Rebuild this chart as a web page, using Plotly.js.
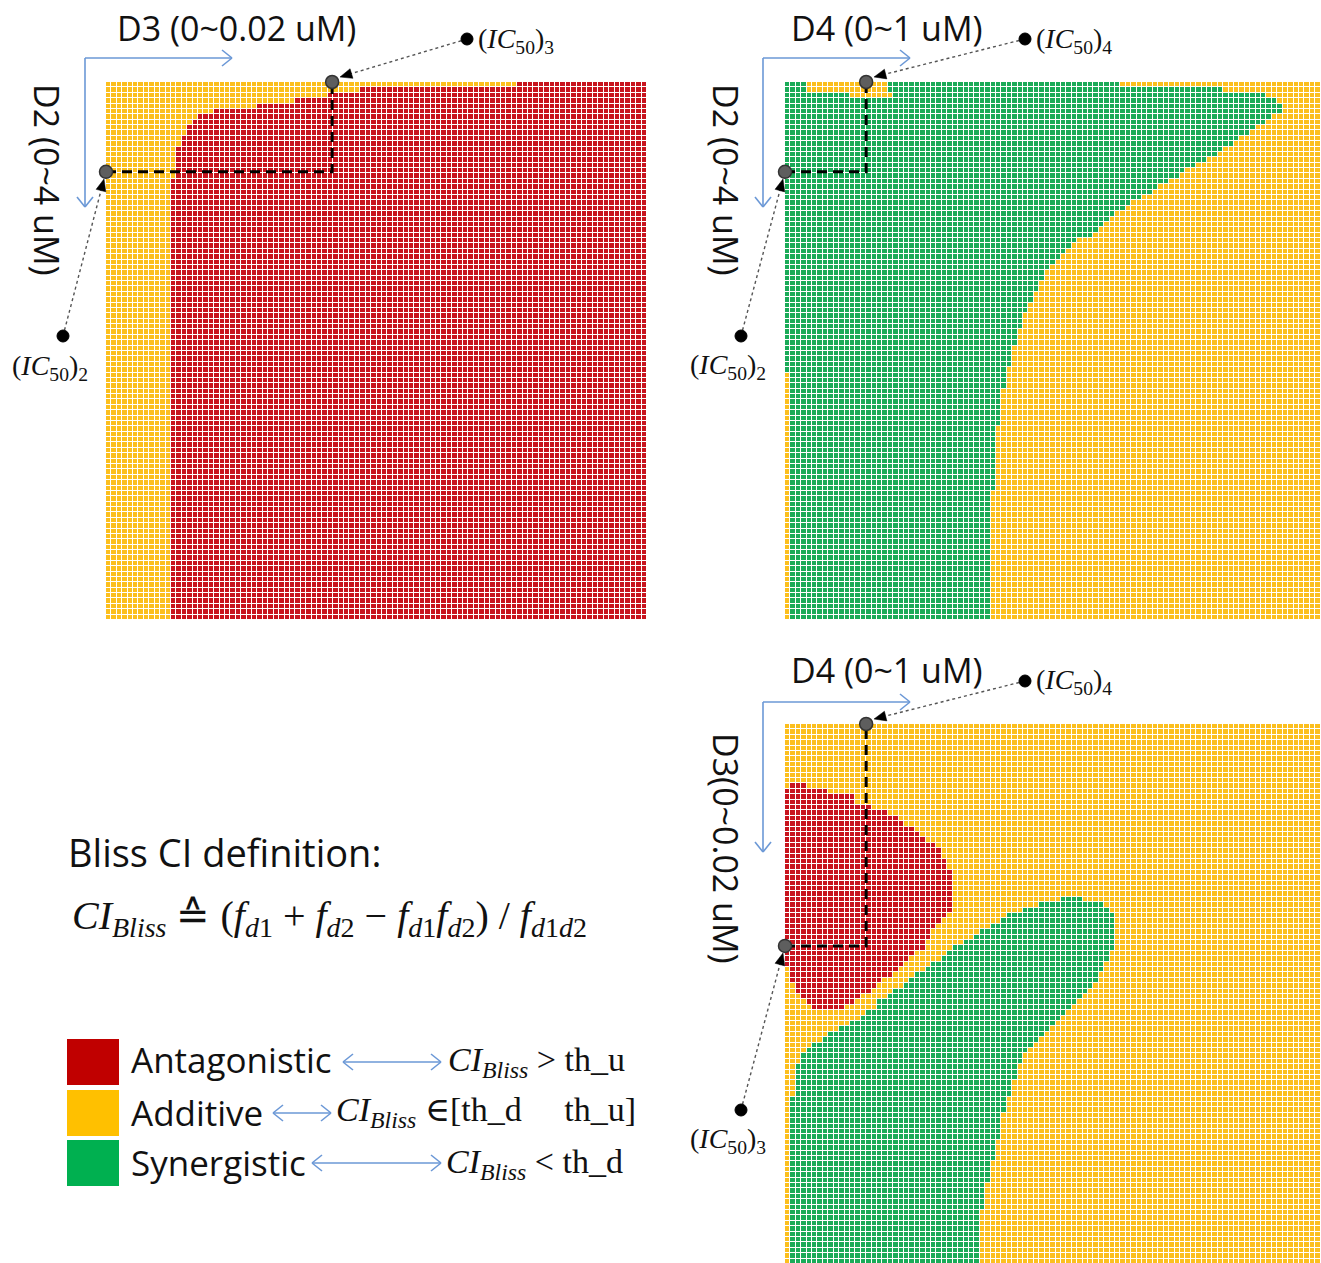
<!DOCTYPE html>
<html><head><meta charset="utf-8">
<script src="https://cdn.plot.ly/plotly-3.0.1.min.js"></script>
<style>html,body{margin:0;padding:0;background:#fff;} #chart{width:1321px;height:1263px;}</style>
</head><body><div id="chart"></div>
<script>
// ---------------- DATA (cell classes) ----------------
// classes: 0 = Synergistic, 1 = Additive, 2 = Antagonistic ; grid 100 x 100
const classNames = ['Synergistic', 'Additive', 'Antagonistic'];
const gridSize = 100;

// Panel 1: D2 (rows, 0~4 uM) x D3 (cols, 0~0.02 uM)
// first antagonistic column, valid from the given row downwards
const p1BandRows = [0, 1, 2, 3, 4, 5, 6, 7, 8, 9, 10, 12, 18];
const p1RedStartCol = [76, 47, 41, 35, 28, 20, 17, 16, 15, 15, 14, 13, 12];

// Panel 2: D2 (rows) x D4 (cols, 0~1 uM)
// first additive column on the right (synergistic before it), valid from given row down
const p2EdgeRows = [0, 1, 2, 3, 4, 5, 6, 7, 8, 9, 10, 11, 12, 13, 14, 15, 16, 17, 18, 19, 20, 21, 22, 23, 24, 25, 26, 27, 28, 29, 30, 31, 32, 33, 34, 35, 37, 39, 41, 43, 46, 49, 53, 57, 64, 76];
const p2EdgeCols = [62, 81, 89, 91, 92, 92, 90, 89, 87, 86, 84, 83, 81, 80, 78, 76, 74, 73, 71, 69, 68, 66, 64, 63, 61, 60, 59, 58, 57, 54, 53, 52, 51, 50, 49, 48, 47, 46, 45, 44, 43, 42, 41, 40, 39, 38];
// small additive patch at the top (rows, from col, to col inclusive)
const p2PatchRows = [0, 1, 2];
const p2PatchFrom = [4, 4, 12];
const p2PatchTo = [18, 18, 19];
// additive strip in column 0 from this row down
const p2LeftStripFromRow = 54;

// Panel 3: D3 (rows, 0~0.02 uM) x D4 (cols, 0~1 uM)
const p3RedTopRow = 11;
const p3RedLeft = [1, 0, 0, 0, 0, 0, 0, 0, 0, 0, 0, 0, 0, 0, 0, 0, 0, 0, 0, 0, 0, 0, 0, 0, 0, 0, 0, 0, 0, 0, 0, 0, 0, 0, 1, 1, 1, 2, 2, 3, 4, 5];
const p3RedRight = [4, 8, 13, 13, 16, 19, 21, 22, 24, 25, 26, 28, 29, 29, 30, 30, 31, 31, 31, 31, 31, 31, 31, 31, 30, 29, 28, 27, 27, 26, 26, 24, 23, 22, 21, 20, 18, 17, 16, 14, 13, 11];
const p3GreenTopRow = 32;
const p3GreenLeft = [51, 47, 44, 41, 40, 38, 36, 35, 33, 31,
  30, 29, 27, 26, 24, 23, 22, 20, 19, 17,
  17, 15, 14, 12, 10, 8, 7, 5, 4, 3,
  3, 2, 2, 2, 2, 2, 2, 1, 1, 1,
  1, 1, 1, 1, 1, 1, 1, 1, 1, 1,
  1, 1, 1, 1, 1, 1, 1, 1, 1, 1,
  1, 1, 1, 1, 1, 1, 1, 1];
const p3GreenRight = [55, 59, 60, 61, 61, 61, 61, 61, 61, 61,
  60, 60, 59, 59, 58, 58, 57, 56, 55, 54,
  53, 52, 51, 50, 49, 48, 47, 46, 45, 44,
  44, 43, 43, 43, 42, 42, 42, 41, 41, 41,
  40, 40, 40, 40, 40, 39, 39, 39, 39, 38,
  38, 38, 38, 37, 37, 37, 37, 37, 36, 36,
  36, 36, 36, 36, 36, 36, 36, 36];

// IC50 positions (in cell units) of each drug on its axis
const ic50_D2_row = 16.2;   // panels 1 & 2
const ic50_D3_col = 41.3;   // panel 1
const ic50_D4_col = 14.5;   // panels 2 & 3
const ic50_D3_row = 40.6;   // panel 3

// text
const axisLabels = {
  p1x: 'D3 (0~0.02 uM)', p1y: 'D2 (0~4 uM)',
  p2x: 'D4 (0~1 uM)', p2y: 'D2 (0~4 uM)',
  p3x: 'D4 (0~1 uM)', p3y: 'D3(0~0.02 uM)'
};

// ---------------- BUILD GRIDS ----------------
function stepLookup(rows, vals, r) {
  let v = vals[0];
  for (let i = 0; i < rows.length; i++) if (r >= rows[i]) v = vals[i];
  return v;
}
const z1 = [], z2 = [], z3 = [];
for (let r = 0; r < gridSize; r++) {
  const a = [], b = [], c3 = [];
  const s1 = stepLookup(p1BandRows, p1RedStartCol, r);
  const e2 = stepLookup(p2EdgeRows, p2EdgeCols, r);
  for (let c = 0; c < gridSize; c++) {
    a.push(c >= s1 ? 2 : 1);
    let v2 = c < e2 ? 0 : 1;
    const pi = p2PatchRows.indexOf(r);
    if (pi >= 0 && c >= p2PatchFrom[pi] && c <= p2PatchTo[pi]) v2 = 1;
    if (r >= p2LeftStripFromRow && c === 0) v2 = 1;
    b.push(v2);
    let v3 = 1;
    const ri = r - p3RedTopRow;
    if (ri >= 0 && ri < p3RedLeft.length && c >= p3RedLeft[ri] && c < p3RedRight[ri]) v3 = 2;
    const gi = r - p3GreenTopRow;
    if (gi >= 0 && gi < p3GreenLeft.length && c >= p3GreenLeft[gi] && c < p3GreenRight[gi]) v3 = 0;
    c3.push(v3);
  }
  z1.push(a); z2.push(b); z3.push(c3);
}

// ---------------- STYLE ----------------
const W = 1321, H = 1263;
const X = p => p / W, Y = p => 1 - p / H;
const GREEN = '#1aab58', ORANGE = '#fcbf1e', RED = '#c8141e';
const CS = [[0, GREEN], [0.3333, GREEN], [0.3334, ORANGE], [0.6666, ORANGE], [0.6667, RED], [1, RED]];
const SANS = 'Open Sans, Noto Sans, sans-serif';
const SERIF = 'Liberation Serif, DejaVu Serif, serif';
const BLUE = '#6b98d6';

function hm(z, xa, ya) {
  return {type: 'heatmap', z: z, xaxis: xa, yaxis: ya, zmin: 0, zmax: 2, colorscale: CS,
    showscale: false, xgap: 1, ygap: 1, hoverinfo: 'skip'};
}
function guide(xa, ya, col, row) {
  return [
    {type: 'scatter', mode: 'lines', x: [-0.5, col, col], y: [row, row, -0.5], xaxis: xa, yaxis: ya,
      line: {color: '#000', width: 3, dash: '10px,6px'}, cliponaxis: false, hoverinfo: 'skip', showlegend: false},
    {type: 'scatter', mode: 'markers', x: [-0.5, col], y: [row, -0.5], xaxis: xa, yaxis: ya,
      marker: {size: 13, color: '#5e5e5e', line: {color: '#333', width: 1.5}}, cliponaxis: false, hoverinfo: 'skip', showlegend: false}
  ];
}

const data = [hm(z1, 'x', 'y'), hm(z2, 'x2', 'y2'), hm(z3, 'x3', 'y3'),
  ...guide('x', 'y', ic50_D3_col, ic50_D2_row),
  ...guide('x2', 'y2', ic50_D4_col, ic50_D2_row),
  ...guide('x3', 'y3', ic50_D4_col, ic50_D3_row)];

const shapes = [], annotations = [];
function seg(x0, y0, x1, y1, color, width, dash) {
  shapes.push({type: 'line', xref: 'paper', yref: 'paper', x0: X(x0), y0: Y(y0), x1: X(x1), y1: Y(y1),
    line: {color: color, width: width, dash: dash || 'solid'}});
}
function chev(tx, ty, dx, dy, len, half, color) {
  const bx = tx - dx * len, by = ty - dy * len;
  const nx = -dy, ny = dx;
  seg(bx + nx * half, by + ny * half, tx, ty, color, 1.6);
  seg(bx - nx * half, by - ny * half, tx, ty, color, 1.6);
}
function tri(tx, ty, dx, dy, len, half) {
  const bx = tx - dx * len, by = ty - dy * len;
  const nx = -dy, ny = dx;
  const pts = [[tx, ty], [bx + nx * half, by + ny * half], [bx - nx * half, by - ny * half]];
  shapes.push({type: 'path', xref: 'paper', yref: 'paper',
    path: 'M' + pts.map(p => X(p[0]) + ',' + Y(p[1])).join(' L') + ' Z',
    fillcolor: '#000', line: {color: '#000', width: 0.5}});
}
function blueL(cx, cy, hx, vy) {
  seg(cx, cy, hx, cy, BLUE, 1.6);
  seg(cx, cy, cx, vy, BLUE, 1.6);
  chev(hx, cy, 1, 0, 10, 8, BLUE);
  chev(cx, vy, 0, 1, 10, 8, BLUE);
}
function dblArrow(x0, x1, y) {
  seg(x0, y, x1, y, BLUE, 1.6);
  chev(x1, y, 1, 0, 10, 8, BLUE);
  chev(x0, y, -1, 0, 10, 8, BLUE);
}
function txt(x, y, s, size, font, anchor, angle, color) {
  annotations.push({xref: 'paper', yref: 'paper', x: X(x), y: Y(y), text: s, showarrow: false,
    xanchor: anchor || 'left', yanchor: 'middle', textangle: angle || 0,
    font: {family: font, size: size, color: color || '#111'}});
}
function icLabel(dotX, dotY, tipX, tipY, label, lx, ly, anchor) {
  const dx = dotX - tipX, dy = dotY - tipY, L = Math.hypot(dx, dy);
  seg(dotX, dotY, tipX + dx / L * 10, tipY + dy / L * 10, '#555', 1.4, 'dot');
  tri(tipX, tipY, -dx / L, -dy / L, 12, 5);
  shapes.push({type: 'circle', xref: 'paper', yref: 'paper', x0: X(dotX - 6), x1: X(dotX + 6), y0: Y(dotY + 6), y1: Y(dotY - 6),
    fillcolor: '#000', line: {color: '#000', width: 1}});
  txt(lx, ly, label, 28, SERIF, anchor);
}
const ic = n => '(<i>IC</i><sub>50</sub>)<sub>' + n + '</sub>';

// panel 1 decorations
blueL(85, 58, 232, 207);
txt(236, 28, axisLabels.p1x, 34, SANS, 'center');
txt(47, 180, axisLabels.p1y, 34, SANS, 'center', 90);
icLabel(467, 39, 340, 77, ic(3), 476, 40, 'left');
icLabel(63, 336, 104, 179, ic(2), 50, 367, 'center');
// panel 2
blueL(763, 58, 910, 207);
txt(887, 28, axisLabels.p2x, 34, SANS, 'center');
txt(726, 180, axisLabels.p2y, 34, SANS, 'center', 90);
icLabel(1025, 39, 874, 77, ic(4), 1034, 40, 'left');
icLabel(741, 336, 783, 179, ic(2), 728, 366, 'center');
// panel 3
blueL(763, 702, 910, 852);
txt(887, 670, axisLabels.p3x, 34, SANS, 'center');
txt(726, 848, axisLabels.p3y, 34, SANS, 'center', 90);
icLabel(1025, 681, 874, 719, ic(4), 1034, 682, 'left');
icLabel(741, 1110, 783, 953, ic(3), 728, 1140, 'center');

// definition block
txt(66, 852, 'Bliss CI definition:', 38, SANS, 'left');
const ci = '<i>CI</i><sub><i>Bliss</i></sub>';
const f = s => '<i>f</i><sub><i>d</i>' + s + '</sub>';
txt(70, 918, ci + ' \u2259 (' + f('1') + ' + ' + f('2') + ' \u2212 ' + f('1') + f('2') + ') / <i>f</i><sub><i>d</i>1<i>d</i>2</sub>', 40, SERIF, 'left');

// legend squares
const legendColors = ['#c00000', '#ffc000', '#00b050'];
const legendTops = [1039, 1090, 1140];
for (let i = 0; i < 3; i++) {
  shapes.push({type: 'rect', xref: 'paper', yref: 'paper', x0: X(67), x1: X(119), y0: Y(legendTops[i] + 46), y1: Y(legendTops[i]),
    fillcolor: legendColors[i], line: {width: 0}});
}
txt(129, 1059, classNames[2], 35, SANS, 'left');
txt(129, 1112, classNames[1], 35, SANS, 'left');
txt(129, 1162, classNames[0], 35, SANS, 'left');
dblArrow(343, 441, 1062);
dblArrow(273, 331, 1113);
dblArrow(312, 441, 1163);
txt(446, 1062, ci + ' &gt; th_u', 34, SERIF, 'left');
txt(334, 1112, ci + ' \u2208[th_d\u00a0\u00a0\u00a0\u00a0\u00a0th_u]', 34, SERIF, 'left');
txt(444, 1164, ci + ' &lt; th_d', 34, SERIF, 'left');

const ax = (dom, range, anchor) => ({domain: dom, range: range, visible: false, fixedrange: true, anchor: anchor});
const layout = {
  width: W, height: H, margin: {l: 0, r: 0, t: 0, b: 0},
  paper_bgcolor: '#fff', plot_bgcolor: '#fff', showlegend: false,
  xaxis: ax([X(106), X(647)], [-0.5, 99.5], 'y'),
  yaxis: ax([Y(620), Y(82)], [99.5, -0.5], 'x'),
  xaxis2: ax([X(785), 1], [-0.5, -0.5 + 536 / 5.41], 'y2'),
  yaxis2: ax([Y(620), Y(82)], [99.5, -0.5], 'x2'),
  xaxis3: ax([X(785), 1], [-0.5, -0.5 + 536 / 5.41], 'y3'),
  yaxis3: ax([0, Y(724)], [-0.5 + 539 / 5.4, -0.5], 'x3'),
  shapes: shapes, annotations: annotations
};
Plotly.newPlot('chart', data, layout, {displayModeBar: false, staticPlot: true});
</script></body></html>
